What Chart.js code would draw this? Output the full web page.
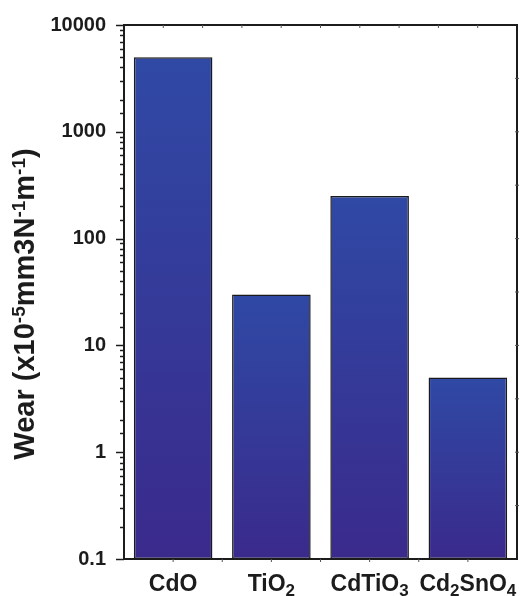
<!DOCTYPE html>
<html lang="en">
<head>
    <meta charset="UTF-8">
    <title>Wear</title>
    <script src="https://cdn.jsdelivr.net/npm/chart.js"></script>
    <style>
        body {
            margin: 0;
            padding: 0;
            background: #fff;
        }
        canvas {
            display: block;
        }
    </style>
</head>
<body>
    <canvas id="wearChart" width="527" height="596"></canvas>

    <script>
        // data
        var categories = ['CdO', 'TiO2', 'CdTiO3', 'Cd2SnO4'];
        var wear = [5000, 30, 250, 5];
        var yMin = 0.1;
        var yMax = 10000;
        // axis title, second item = superscript
        var titleParts = [['Wear (x10', 0], ['-5', 1], ['mm3N', 0], ['-1', 1], ['m', 0], ['-1', 1], [')', 0]];

        var FONT = '"Liberation Sans", Arial, Helvetica, sans-serif';
        var INK = '#1c1c1c';

        // frame, tick marks, formula labels and y title
        var decorPlugin = {
            id: 'decor',
            afterDraw: function (chart) {
                var ctx = chart.ctx;
                var a = chart.chartArea;
                var y = chart.scales.y;
                var x = chart.scales.x;
                ctx.save();

                // top and right frame
                ctx.strokeStyle = INK;
                ctx.lineWidth = 2;
                ctx.beginPath();
                ctx.moveTo(a.left, a.top);
                ctx.lineTo(a.right, a.top);
                ctx.lineTo(a.right, a.bottom);
                ctx.stroke();

                // left axis ticks (log, major + minor)
                ctx.lineWidth = 1.5;
                y.ticks.forEach(function (t) {
                    var py = Math.round(y.getPixelForValue(t.value)) + 0.5;
                    var major = Math.abs(Math.log10(t.value) - Math.round(Math.log10(t.value))) < 1e-6;
                    var len = major ? 8 : 4;
                    ctx.beginPath();
                    ctx.moveTo(a.left - len, py);
                    ctx.lineTo(a.left, py);
                    ctx.stroke();
                });

                // small ticks on top, right and bottom
                ctx.lineWidth = 1;
                ctx.strokeStyle = '#555';
                var i, p;
                for (i = 1; i < 10; i++) {
                    p = a.left + (a.right - a.left) * i / 10;
                    ctx.beginPath();
                    ctx.moveTo(p, a.top);
                    ctx.lineTo(p, a.top + 3);
                    ctx.stroke();
                    p = a.top + (a.bottom - a.top) * i / 10;
                    ctx.beginPath();
                    ctx.moveTo(a.right - 2, p);
                    ctx.lineTo(a.right + 2, p);
                    ctx.stroke();
                }
                for (i = 1; i < 8; i++) {
                    p = a.left + (a.right - a.left) * i / 8;
                    ctx.beginPath();
                    ctx.moveTo(p, a.bottom);
                    ctx.lineTo(p, a.bottom + 3);
                    ctx.stroke();
                }

                // category labels with subscript digits
                ctx.fillStyle = INK;
                ctx.textBaseline = 'alphabetic';
                ctx.textAlign = 'left';
                categories.forEach(function (name, idx) {
                    var parts = name.match(/\d+|\D+/g).map(function (s) {
                        return [s, /\d/.test(s) ? 1 : 0];
                    });
                    var w = 0;
                    parts.forEach(function (pt) {
                        ctx.font = 'bold ' + (pt[1] ? 17 : 23) + 'px ' + FONT;
                        w += ctx.measureText(pt[0]).width;
                    });
                    var cx = x.getPixelForValue(idx) - w / 2;
                    parts.forEach(function (pt) {
                        ctx.font = 'bold ' + (pt[1] ? 17 : 23) + 'px ' + FONT;
                        ctx.fillText(pt[0], cx, pt[1] ? 596 : 591);
                        cx += ctx.measureText(pt[0]).width;
                    });
                });

                // rotated y title with superscripts
                ctx.translate(34, 304);
                ctx.rotate(-Math.PI / 2);
                var tw = 0;
                titleParts.forEach(function (pt) {
                    ctx.font = 'bold ' + (pt[1] ? 19 : 29) + 'px ' + FONT;
                    tw += ctx.measureText(pt[0]).width;
                });
                var tx = -tw / 2;
                titleParts.forEach(function (pt) {
                    ctx.font = 'bold ' + (pt[1] ? 19 : 29) + 'px ' + FONT;
                    ctx.fillText(pt[0], tx, pt[1] ? -9 : 0);
                    tx += ctx.measureText(pt[0]).width;
                });

                ctx.restore();
            }
        };

        var ctxWear = document.getElementById('wearChart').getContext('2d');
        var wearChart = new Chart(ctxWear, {
            type: 'bar',
            data: {
                labels: categories,
                datasets: [{
                    label: 'Wear',
                    data: wear,
                    backgroundColor: function (c) {
                        var chart = c.chart;
                        var area = chart.chartArea;
                        if (!area || c.dataIndex === undefined || !chart.scales.y) {
                            return '#33409c';
                        }
                        var top = chart.scales.y.getPixelForValue(wear[c.dataIndex]);
                        var g = chart.ctx.createLinearGradient(0, top, 0, area.bottom);
                        g.addColorStop(0, '#2f49a4');
                        g.addColorStop(1, '#3a2a8c');
                        return g;
                    },
                    borderColor: '#1a1a1a',
                    borderWidth: 1.5,
                    borderSkipped: false,
                    barPercentage: 0.8,
                    categoryPercentage: 1.0
                }]
            },
            options: {
                responsive: false,
                animation: false,
                layout: {
                    padding: { top: 25, right: 10, bottom: 0, left: 0 }
                },
                plugins: {
                    legend: { display: false },
                    tooltip: { enabled: false }
                },
                scales: {
                    x: {
                        offset: true,
                        grid: { display: false, drawTicks: false },
                        border: { display: true, color: INK, width: 2 },
                        ticks: { display: false },
                        afterFit: function (s) { s.height = 37; }
                    },
                    y: {
                        type: 'logarithmic',
                        min: yMin,
                        max: yMax,
                        grid: { drawOnChartArea: false, drawTicks: false },
                        border: { display: true, color: INK, width: 2 },
                        ticks: {
                            autoSkip: false,
                            padding: 18,
                            color: INK,
                            font: { family: FONT, size: 20, weight: 'bold' },
                            callback: function (v) {
                                var l = Math.log10(v);
                                if (Math.abs(l - Math.round(l)) > 1e-6) return '';
                                return String(Number(v.toPrecision(3)));
                            }
                        },
                        afterFit: function (s) {
                            s.width = 124;
                            s.paddingTop = 0;
                            s.paddingBottom = 0;
                        }
                    }
                }
            },
            plugins: [decorPlugin]
        });
    </script>
</body>
</html>
